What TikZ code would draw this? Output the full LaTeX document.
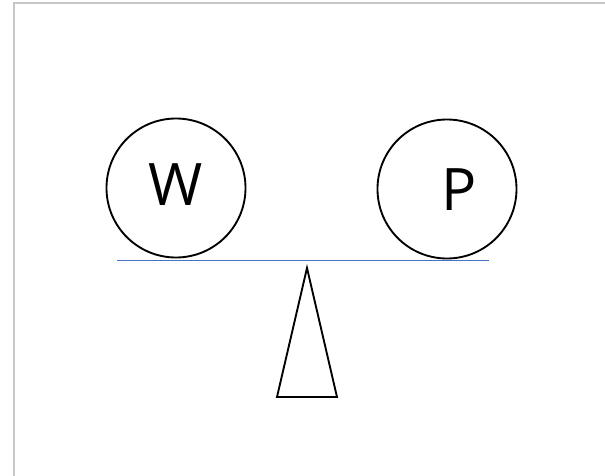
\documentclass[tikz,border=0pt]{standalone}
\usepackage{fontspec}
\setmainfont{Open Sans}

\begin{document}
\begin{tikzpicture}[x=0.03cm, y=-0.03cm,
  ball/.style={circle, draw, line width=1.6pt, minimum size=4.17cm, inner sep=0pt},
  letter/.style={font=\fontsize{50}{52}\selectfont, inner sep=0pt},
  beam/.style={draw=beamblue, line width=0.8pt},
  pivot/.style={draw, line width=1.6pt, line join=miter},
  frame/.style={draw=black!22, line width=1.4pt}]
  \definecolor{beamblue}{RGB}{68,114,196}
  \useasboundingbox (0,0) rectangle (605,476);
  \draw[frame] (14,476) -- (14,3) -- (605,3);

  \node[ball] (W) at (176,188) {};
  \node[ball] (P) at (447,189) {};
  \node[letter] (Wl) at (176,185) {W};
  \node[letter] (Pl) at (459,190) {P};

  \coordinate (beamL) at (117,260);
  \coordinate (beamR) at (489,260);
  \draw[beam] (beamL) -- (beamR);

  \coordinate (tip) at (307,268);
  \coordinate (baseL) at (277,397);
  \coordinate (baseR) at (337,397);
  \draw[pivot] (tip) -- (baseL) -- (baseR) -- cycle;
\end{tikzpicture}
\end{document}
